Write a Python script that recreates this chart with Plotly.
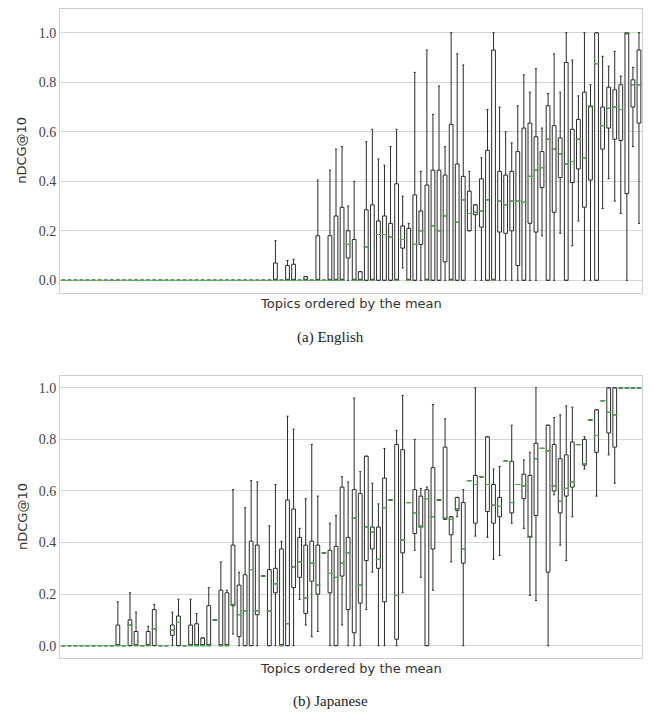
import plotly.graph_objects as go

# ---------------- data ----------------
topics = list(range(96))

en_lo = [0]*35 + [0, 0, 0, 0, 0, 0, 0, 0, 0, 0,
                  0, 0, 0, 0, 0, 0, 0, 0, 0, 0,
                  0, 0.05, 0, 0, 0, 0, 0, 0, 0, 0,
                  0, 0, 0.24, 0, 0, 0, 0, 0, 0, 0,
                  0, 0, 0, 0, 0.18, 0, 0, 0.19, 0, 0.14,
                  0.24, 0, 0, 0, 0.29, 0.41, 0.32, 0.27, 0, 0.54,
                  0.23]
en_q1 = [0]*35 + [0, 0, 0, 0, 0, 0, 0, 0, 0, 0,
                  0, 0, 0.09, 0, 0, 0, 0, 0, 0, 0,
                  0, 0.13, 0, 0, 0.145, 0, 0, 0, 0.075, 0,
                  0, 0, 0.2, 0.265, 0.215, 0, 0, 0.195, 0.19, 0.2,
                  0.06, 0, 0.23, 0.195, 0.375, 0, 0.275, 0.415, 0, 0.395,
                  0.45, 0.295, 0.405, 0, 0.53, 0.615, 0.57, 0.565, 0.35, 0.7,
                  0.635]
en_med = [0]*35 + [0, 0, 0, 0, 0, 0, 0, 0, 0, 0,
                   0, 0, 0.145, 0, 0, 0.135, 0, 0.185, 0.185, 0.175,
                   0, 0.165, 0, 0.145, 0.2, 0, 0.22, 0.2, 0.26, 0,
                   0.235, 0.325, 0.27, 0.275, 0.28, 0.325, 0, 0.32, 0.305, 0.32,
                   0.32, 0.315, 0.42, 0.445, 0.455, 0.57, 0.53, 0.51, 0.47, 0.48,
                   0.57, 0.495, 0.705, 0.875, 0.625, 0.695, 0.7, 0.69, 1.0, 0.79,
                   0.79]
en_q3 = [0]*35 + [0.07, 0, 0.06, 0.065, 0, 0.015, 0, 0.18, 0, 0.18,
                  0.26, 0.295, 0.2, 0.165, 0.035, 0.285, 0.305, 0.24, 0.26, 0.23,
                  0.39, 0.22, 0.21, 0.345, 0.28, 0.385, 0.445, 0.445, 0.425, 0.63,
                  0.47, 0.42, 0.36, 0.305, 0.41, 0.525, 0.93, 0.44, 0.425, 0.44,
                  0.52, 0.615, 0.635, 0.58, 0.52, 0.705, 0.625, 0.575, 0.88, 0.61,
                  0.65, 0.76, 0.705, 1.0, 0.7, 0.78, 0.77, 0.79, 1.0, 0.81,
                  0.93]
en_hi = [0]*35 + [0.16, 0, 0.08, 0.085, 0, 0.015, 0, 0.405, 0, 0.445,
                  0.53, 0.54, 0.3, 0.4, 0.035, 0.56, 0.61, 0.49, 0.465, 0.54,
                  0.61, 0.34, 0.23, 0.84, 0.44, 0.93, 0.67, 0.785, 0.54, 1.0,
                  0.915, 0.87, 0.44, 0.305, 0.495, 0.69, 1.0, 0.7, 0.6, 0.555,
                  0.705, 0.83, 0.76, 0.855, 0.615, 0.755, 0.915, 0.76, 1.0, 0.89,
                  0.745, 1.0, 0.79, 1.0, 0.905, 0.865, 0.925, 0.825, 1.0, 0.86,
                  1.0]

ja_lo = [0]*9 + [0, 0, 0, 0, 0, 0, 0, 0, 0, 0,
                 0, 0, 0, 0, 0, 0, 0, 0, 0, 0.045,
                 0, 0, 0, 0, 0, 0, 0, 0, 0, 0,
                 0.18, 0.08, 0.035, 0.055, 0.205, 0, 0, 0.08, 0, 0,
                 0, 0.14, 0.285, 0, 0, 0, 0, 0.205, 0.17, 0.37,
                 0.265, 0, 0.215, 0, 0.49, 0.325, 0.5, 0, 0, 0.425,
                 0, 0.42, 0.335, 0.35, 0, 0.475, 0.42, 0.455, 0.195, 0.175,
                 0, 0, 0.585, 0.39, 0.33, 0.5, 0.335, 0.685, 0.47, 0.58,
                 0.475, 0.74, 0.63, 0.99, 1.0, 1.0, 1.0]
ja_q1 = [0]*9 + [0, 0, 0, 0, 0, 0, 0, 0, 0, 0.04,
                 0, 0, 0, 0, 0, 0, 0, 0, 0, 0.155,
                 0.035, 0, 0, 0.12, 0.165, 0, 0.205, 0, 0, 0.225,
                 0.265, 0.125, 0.25, 0.2, 0.26, 0.205, 0, 0.27, 0.14, 0.05,
                 0.165, 0.33, 0.375, 0.3, 0.17, 0, 0.025, 0.36, 0.4, 0.435,
                 0.46, 0, 0.375, 0.025, 0.49, 0.43, 0.525, 0.32, 0, 0.475,
                 0.165, 0.52, 0.475, 0.5, 0.335, 0.515, 0.52, 0.57, 0.42, 0.505,
                 0, 0.285, 0.6, 0.515, 0.58, 0.615, 0.545, 0.7, 0.61, 0.75,
                 0.76, 0.825, 0.77, 0.99, 1.0, 1.0, 1.0]
ja_med = [0]*9 + [0, 0, 0.08, 0, 0, 0, 0.065, 0, 0, 0.06,
                  0.09, 0, 0, 0, 0, 0, 0.1, 0, 0, 0.16,
                  0.12, 0.135, 0.295, 0.135, 0.27, 0.135, 0.24, 0, 0.085, 0.305,
                  0.325, 0.185, 0.32, 0.235, 0.36, 0.28, 0.265, 0.32, 0.36, 0.495,
                  0.235, 0.46, 0.44, 0.335, 0.535, 0.565, 0.195, 0.41, 0.555, 0.515,
                  0.46, 0.57, 0.5, 0.565, 0.495, 0.49, 0.53, 0.375, 0.64, 0.625,
                  0.655, 0.625, 0.545, 0.54, 0.715, 0.555, 0.625, 0.62, 0.42, 0.725,
                  0.765, 0.755, 0.62, 0.56, 0.61, 0.635, 0.78, 0.705, 0.875, 0.815,
                  0.95, 0.905, 0.895, 1.0, 1.0, 1.0, 1.0]
ja_q3 = [0]*9 + [0.08, 0, 0.1, 0.055, 0, 0.055, 0.14, 0, 0, 0.08,
                 0.115, 0, 0.08, 0.085, 0.03, 0.155, 0, 0.215, 0.205, 0.39,
                 0.235, 0.275, 0.405, 0.39, 0.24, 0.295, 0.3, 0.375, 0.565, 0.53,
                 0.42, 0.39, 0.405, 0.39, 0.32, 0.37, 0.385, 0.615, 0.42, 0.605,
                 0.59, 0.735, 0.46, 0.46, 0.65, 0.535, 0.78, 0.76, 0.475, 0.605,
                 0.58, 0.605, 0.69, 0.52, 0.77, 0.5, 0.575, 0.555, 0.56, 0.66,
                 0.63, 0.81, 0.625, 0.575, 0.645, 0.715, 0.61, 0.665, 0.66, 0.785,
                 0.73, 0.855, 0.78, 0.725, 0.74, 0.79, 0.69, 0.8, 0.72, 0.915,
                 0.945, 1.0, 1.0, 0.93, 1.0, 1.0, 1.0]
ja_hi = [0]*9 + [0.17, 0, 0.205, 0.13, 0, 0.075, 0.16, 0, 0, 0.13,
                 0.18, 0, 0.18, 0.125, 0.03, 0.225, 0, 0.325, 0.215, 0.605,
                 0.285, 0.535, 0.64, 0.635, 0.34, 0.465, 0.625, 0.405, 0.89, 0.84,
                 0.455, 0.57, 0.78, 0.58, 0.495, 0.475, 0.505, 0.655, 0.635, 0.96,
                 0.675, 0.735, 0.63, 0.55, 0.765, 0.855, 0.835, 0.97, 0.645, 0.8,
                 0.61, 0.615, 0.935, 0.61, 0.88, 0.5, 0.575, 0.605, 0.89, 1.0,
                 0.68, 0.81, 0.685, 0.695, 0.715, 0.855, 0.735, 0.72, 0.75, 1.0,
                 0.84, 0.855, 0.885, 0.895, 0.93, 0.925, 0.81, 0.81, 0.735, 0.915,
                 1.0, 1.0, 1.0, 1.0, 1.0, 1.0, 1.0]

y_ticks = [0.0, 0.2, 0.4, 0.6, 0.8, 1.0]
y_tick_text = ["0.0", "0.2", "0.4", "0.6", "0.8", "1.0"]
captions = ["(a) English", "(b) Japanese"]
y_title = "nDCG@10"
x_title = "Topics ordered by the mean"

# ---------------- figure ----------------
W, H = 653, 712
fig = go.Figure()

BOX_LINE = "#2b2b2b"
MED_COL = "#4caf50"

panels = [
    dict(lo=en_lo, q1=en_q1, med=en_med, q3=en_q3, hi=en_hi, xa="x", ya="y"),
    dict(lo=ja_lo, q1=ja_q1, med=ja_med, q3=ja_q3, hi=ja_hi, xa="x2", ya="y2"),
]
for p in panels:
    fig.add_trace(go.Box(
        x=topics, q1=p["q1"], median=p["med"], q3=p["q3"],
        lowerfence=p["lo"], upperfence=p["hi"],
        boxpoints=False, width=0.62, whiskerwidth=0.55,
        fillcolor="white", line=dict(color=BOX_LINE, width=1),
        xaxis=p["xa"], yaxis=p["ya"], showlegend=False, hoverinfo="skip",
    ))
    fig.add_trace(go.Scatter(
        x=topics, y=p["med"], mode="markers",
        marker=dict(symbol="line-ew", size=4,
                    line=dict(color=MED_COL, width=1.2)),
        xaxis=p["xa"], yaxis=p["ya"], showlegend=False, hoverinfo="skip",
    ))

# plot-area geometry in pixels
L, R = 60.3, 642.0
top_box = (9.0, 292.7)
bot_box = (375.7, 658.3)

def ydom(b):
    return [1 - b[1] / H, 1 - b[0] / H]

axis_common = dict(showline=True, mirror=True, linecolor="#cfcfcf", linewidth=1.3,
                   zeroline=False)
xcommon = dict(axis_common, range=[-0.5, 95.5], showgrid=False, showticklabels=False,
               ticks="", domain=[L / W, R / W])
ycommon = dict(axis_common, showgrid=True, gridcolor="#d6d6d6", gridwidth=1,
               tickvals=y_ticks, ticktext=y_tick_text, ticks="",
               tickfont=dict(family="Liberation Serif, serif", size=14, color="#444444"))

fig.update_layout(
    width=W, height=H, margin=dict(l=0, r=0, t=0, b=0),
    paper_bgcolor="white", plot_bgcolor="white",
    xaxis=dict(xcommon, anchor="y"),
    yaxis=dict(ycommon, domain=ydom(top_box), range=[-0.05, 1.096], anchor="x"),
    xaxis2=dict(xcommon, anchor="y2"),
    yaxis2=dict(ycommon, domain=ydom(bot_box), range=[-0.049, 1.047], anchor="x2"),
)

ann = []
for b, cap, cap_y in [(top_box, captions[0], 337.0), (bot_box, captions[1], 701.0)]:
    cy = (b[0] + b[1]) / 2
    ann.append(dict(x=22 / W, y=1 - cy / H, xref="paper", yref="paper", text=y_title,
                    textangle=-90, showarrow=False, xanchor="center", yanchor="middle",
                    font=dict(family="DejaVu Sans, sans-serif", size=13, color="#333333")))
    ann.append(dict(x=(L + R) / 2 / W, y=1 - (b[1] + 10.5) / H, xref="paper", yref="paper",
                    text=x_title, showarrow=False, xanchor="center", yanchor="middle",
                    font=dict(family="DejaVu Sans, sans-serif", size=13, color="#333333")))
    ann.append(dict(x=330 / W, y=1 - cap_y / H, xref="paper", yref="paper", text=cap,
                    showarrow=False, xanchor="center", yanchor="middle",
                    font=dict(family="Liberation Serif, serif", size=15, color="#222222")))
fig.update_layout(annotations=ann)

fig.write_html("out.html",
               config={"displayModeBar": False},
               post_script="document.body.style.margin='0px';")
